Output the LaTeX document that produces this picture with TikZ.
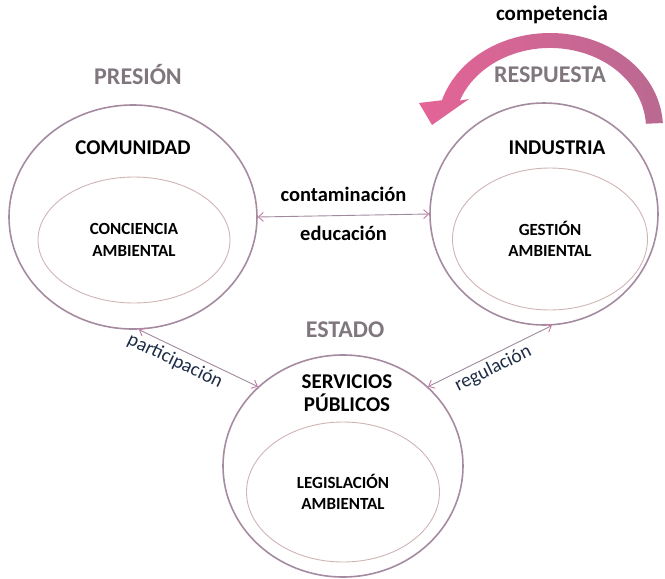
\documentclass[tikz,border=0pt]{standalone}
\usepackage{fontspec}
\setmainfont{Carlito}
\usetikzlibrary{shapes.geometric,arrows.meta}
\definecolor{rim}{RGB}{165,139,160}
\definecolor{innerrim}{RGB}{208,180,180}
\definecolor{linkline}{RGB}{160,138,156}
\definecolor{linktip}{RGB}{200,120,165}
\definecolor{rolegray}{RGB}{128,119,126}
\definecolor{navy}{RGB}{30,45,70}
\definecolor{pinkL}{RGB}{228,100,150}
\definecolor{pinkR}{RGB}{185,105,145}

\begin{document}
\begin{tikzpicture}[x=1pt,y=-1pt,
    outerring/.style={ellipse,draw=rim,line width=1.6pt,inner sep=0pt},
    innerring/.style={ellipse,draw=innerrim,line width=0.9pt,inner sep=0pt,align=center,
        font=\fontsize{17}{21.5}\selectfont\bfseries},
    actor/.style={font=\fontsize{21}{22.5}\selectfont\bfseries,align=center},
    rolelbl/.style={text=rolegray,font=\fontsize{24}{26}\selectfont\bfseries},
    linkarrow/.style={draw=linkline,line width=0.9pt,
        {Straight Barb[color=linktip,length=5pt,width=9pt]}-{Straight Barb[color=linktip,length=5pt,width=9pt]}},
    flowlbl/.style={inner sep=0pt,font=\fontsize{20.5}{22}\selectfont\bfseries},
    linklbl/.style={inner sep=4pt,text=navy,font=\fontsize{19.5}{21}\selectfont,sloped,anchor=north}]
    \useasboundingbox (0,0) rectangle (665,579);

    \shade[left color=pinkL,right color=pinkR] (550,128) ++(-3:113 and 95)
        arc[start angle=-3,end angle=-163,x radius=113,y radius=95]
        -- (419,103) -- (432,125) -- (469,99) -- (459.8,100.6)
        arc[start angle=-160,end angle=-3,x radius=96,y radius=80] -- cycle;

    \node[outerring,minimum width=248pt,minimum height=224pt] (comunidad) at (133,217) {};
    \node[outerring,minimum width=228pt,minimum height=222pt] (industria) at (544,214) {};
    \node[outerring,minimum width=240pt,minimum height=222pt] (estado) at (343,466) {};

    \node[innerring,minimum width=192pt,minimum height=126pt] (conciencia) at (134,240) {CONCIENCIA\\AMBIENTAL};
    \node[innerring,minimum width=195pt,minimum height=142pt] (gestion) at (550,239) {GESTIÓN\\AMBIENTAL};
    \node[innerring,minimum width=193pt,minimum height=140pt] (legislacion) at (343,492) {LEGISLACIÓN\\AMBIENTAL};

    \node[actor] (comunidadlbl) at (133,148) {COMUNIDAD};
    \node[actor] (industrialbl) at (557,148) {INDUSTRIA};
    \node[actor] (servicioslbl) at (347,393) {SERVICIOS\\PÚBLICOS};
    \node[actor] (competencia) at (552,15) {competencia};

    \node[rolelbl] (presion) at (138,75) {PRESIÓN};
    \node[rolelbl] (respuesta) at (550,75) {RESPUESTA};
    \node[rolelbl] (estadolbl) at (345,330) {ESTADO};

    \draw[linkarrow] (comunidad.east) -- node[flowlbl,above=13pt] (contaminacion) {contaminación}
        node[flowlbl,below=10pt] (educacion) {educación} (industria.west);
    \draw[linkarrow] (comunidad.-87) -- node[linklbl,pos=0.35] (participacion) {participación} (estado.137);
    \draw[linkarrow] (estado.43) -- node[linklbl,pos=0.48] (regulacion) {regulación} (industria.-86);
\end{tikzpicture}
\end{document}
